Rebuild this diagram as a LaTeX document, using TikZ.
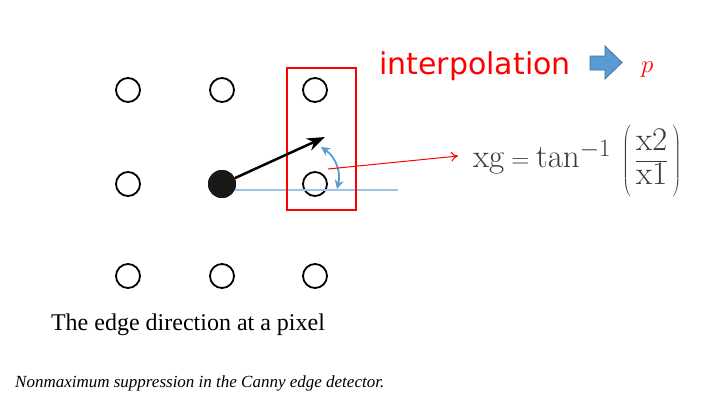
\documentclass[tikz,border=0pt]{standalone}
\usepackage{fontspec}
\newfontfamily\vfont{DejaVu Sans}
\newfontfamily\capfont{Liberation Serif}
\usetikzlibrary{arrows.meta}
\definecolor{ltblue}{HTML}{9DC3E6}
\definecolor{arcblue}{HTML}{5B9BD5}
\definecolor{arrowfill}{HTML}{5B9BD5}
\definecolor{arrowline}{HTML}{41719C}
\definecolor{formgray}{HTML}{3A3A3A}
\tikzset{
  pix/.style={circle,draw=black,line width=1.8pt,minimum size=24pt,inner sep=0pt},
  centerpix/.style={circle,fill=black!90,minimum size=28pt,inner sep=0pt},
}
\begin{document}
\begin{tikzpicture}[x=1pt,y=-1pt]
\useasboundingbox (0,0) rectangle (725,415);
\fill[white] (0,0) rectangle (725,415);
% pixel grid
\node[pix] (a1) at (128,90) {};
\node[pix] (a2) at (222,90) {};
\node[pix] (a3) at (315,90) {};
\node[pix] (b1) at (128,184) {};
\node[centerpix] (b2) at (222,184) {};
\node[pix] (b3) at (315,184) {};
\node[pix] (c1) at (128,276) {};
\node[pix] (c2) at (222,276) {};
\node[pix] (c3) at (315,276) {};
% blue horizontal line
\coordinate (hl) at (398,190);
\draw[ltblue,line width=1.2pt] (b2.center) ++(0,6) -- (hl);
\node[centerpix] at (222,184) {};
% red box
\node[draw=red,line width=1.5pt,minimum width=69pt,minimum height=142pt,inner sep=0pt] (box) at (321.5,139) {};
% direction arrow
\coordinate (dirtip) at (325,137);
\draw[line width=2.5pt,-{Stealth[length=18pt,width=13pt]}] (b2) -- (dirtip);
% angle arc
\coordinate (arcA) at (321,147);
\coordinate (arcB) at (337,189);
\draw[arcblue,line width=1.8pt,{Stealth[length=9pt,width=9pt]}-{Stealth[length=9pt,width=9pt]}] (arcA) to[bend left=35] (arcB);
% red pointer line
\coordinate (rl) at (328,169);
\node[inner sep=0pt,anchor=west,text=formgray,font=\fontsize{33}{40}\selectfont] (form) at (473,160)
  {$\displaystyle \mathrm{xg}=\tan^{-1}\;\left(\vrule height 44pt depth 30pt width 0pt\,\frac{\mathrm{x2}}{\mathrm{x1}}\,\right)$};
\coordinate (rlend) at (458,156);
\draw[red,line width=1pt,-{To[length=7pt,width=10pt]}] (rl) -- (rlend);
% interpolation
\node[text=red,font=\vfont\fontsize{30}{34}\selectfont,anchor=base west,inner sep=0pt] (interp) at (379,74) {interpolation};
\draw[fill=arrowfill,draw=arrowline,line width=0.8pt] (590,56) -- (605,56) -- (605,46) -- (622,62.5) -- (605,79) -- (605,70) -- (590,70) -- cycle;
\node[text=red,font=\fontsize{32}{36}\selectfont,anchor=base west,inner sep=0pt] (p) at (641,72) {$p$};
% captions
\node[font=\capfont\fontsize{24}{28}\selectfont,anchor=base,inner sep=0pt] (cap1) at (188,330) {The edge direction at a pixel};
\node[font=\capfont\itshape\fontsize{17}{21}\selectfont,anchor=base west,inner sep=0pt] (cap2) at (15,387) {Nonmaximum suppression in the Canny edge detector.};
\end{tikzpicture}
\end{document}
